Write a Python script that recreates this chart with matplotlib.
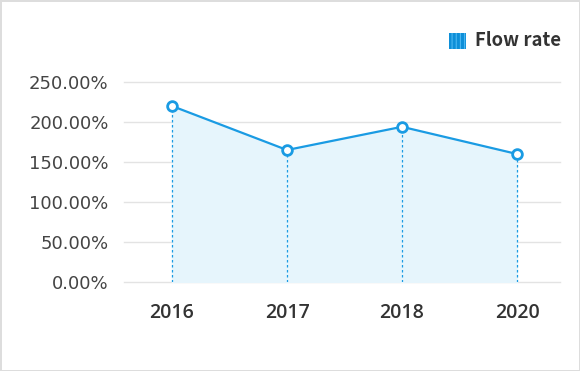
import matplotlib.pyplot as plt
from matplotlib.patches import Rectangle
from matplotlib.ticker import FuncFormatter

years = ["2016", "2017", "2018", "2020"]
flow_rate = [220, 165, 194, 160]
yticks = [0, 50, 100, 150, 200, 250]

blue = "#1a9be3"
W, H = 580, 371
plt.rcParams["hatch.linewidth"] = 0.8

fig = plt.figure(figsize=(W / 100, H / 100), dpi=100)
fig.patch.set_facecolor("white")
fig.patch.set_edgecolor("#dddddd")
fig.patch.set_linewidth(2)

# axes box in pixels: x 124..560, y 82..282 (top..bottom)
ax = fig.add_axes([124 / W, 1 - 282 / H, (560 - 124) / W, 200 / H])
xs = list(range(len(years)))

ax.fill_between(xs, flow_rate, 0, color="#e6f5fc", zorder=1)
ax.vlines(xs, 0, flow_rate, colors=blue, linestyles=(0, (2, 2)), linewidth=0.9, zorder=2)
ax.plot(xs, flow_rate, color=blue, linewidth=1.6, marker="o", markersize=7,
        markerfacecolor="white", markeredgecolor=blue, markeredgewidth=2, zorder=3)

ax.set_xlim(-48 / 115, 3 + 43 / 115)
ax.set_ylim(0, 250)
ax.set_yticks(yticks)
ax.yaxis.set_major_formatter(FuncFormatter(lambda v, p: f"{v:.2f}%"))
ax.set_xticks(xs)
ax.set_xticklabels(years, fontsize=14, fontweight="semibold", color="#333333",
                   family="Open Sans")
ax.grid(axis="y", color="#e3e3e3", linewidth=1, clip_on=False)
ax.set_axisbelow(True)
for s in ax.spines.values():
    s.set_visible(False)
ax.tick_params(axis="y", length=0, pad=11, labelsize=13, labelcolor="#444444")
ax.tick_params(axis="x", length=0, pad=15)
for lbl in ax.get_yticklabels():
    lbl.set_fontfamily("DejaVu Sans")

# legend
fig.patches.append(Rectangle((449 / W, 1 - 49 / H), 17 / W, 16 / H, transform=fig.transFigure,
                             facecolor="#0e8fd8", edgecolor="#4cb8f2", hatch="||||", linewidth=0))
fig.text(475 / W, 1 - 41 / H, "Flow rate", fontsize=13.3, fontweight="bold",
         color="#333333", va="center", ha="left", family=["Noto Sans CJK KR", "DejaVu Sans"])

fig.savefig("out.png", dpi=100, facecolor=fig.get_facecolor(), edgecolor=fig.get_edgecolor())
